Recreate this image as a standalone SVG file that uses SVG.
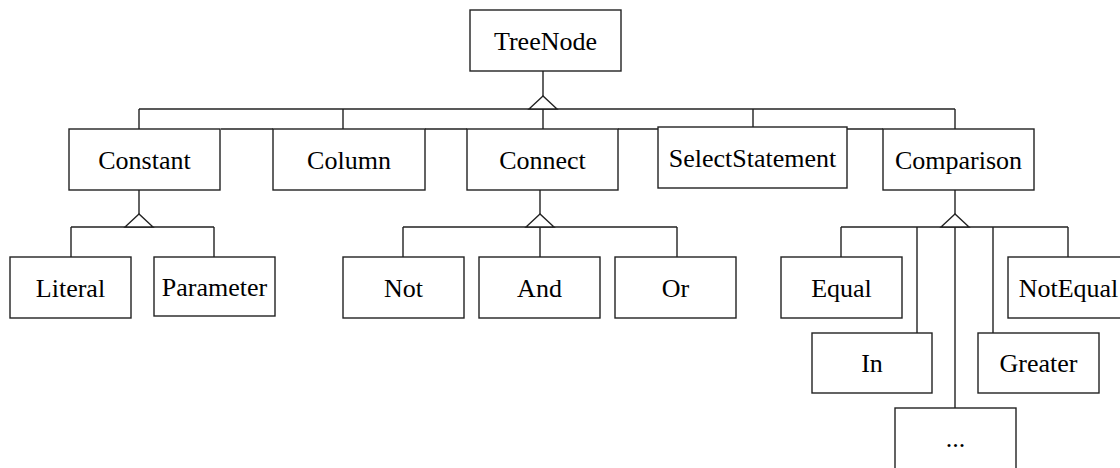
<svg xmlns="http://www.w3.org/2000/svg" xmlns:xlink="http://www.w3.org/1999/xlink" width="1120" height="468" viewBox="0 0 1120 468">
  <style>
    .box { fill: #ffffff; stroke: #222222; stroke-width: 1.4; }
    .lbl { font-family: 'Liberation Serif', 'Times New Roman', serif; font-size: 26px; fill: #000000; text-anchor: middle; }
    .wire { fill: none; stroke: #222222; stroke-width: 1.4; }
    .gen { fill: #ffffff; stroke: #222222; stroke-width: 1.4; stroke-linejoin: miter; }
  </style>
  <defs>
    <!-- hollow generalization triangle, apex at origin -->
    <path id="genTri" class="gen" d="M0,0 L-14,13 L14,13 Z"/>
  </defs>

  <rect width="1120" height="468" fill="#ffffff"/>

  <g id="connectors">
    <!-- TreeNode to first level -->
    <path class="wire" d="M543,71 V96"/>
    <path class="wire" d="M139,109 H955"/>
    <path class="wire" d="M139,109 V129 M343,109 V129 M543,109 V129 M753,109 V127 M955,109 V129"/>
    <path class="wire" d="M221,129 H273 M425,129 H467 M618,129 H658 M847,129 H883"/>
    <use xlink:href="#genTri" x="543" y="96"/>

    <!-- Constant subtypes -->
    <path class="wire" d="M139,190 V214"/>
    <path class="wire" d="M71,227 H214 M71,227 V257 M214,227 V257"/>
    <use xlink:href="#genTri" x="139" y="214"/>

    <!-- Connect subtypes -->
    <path class="wire" d="M540,190 V214"/>
    <path class="wire" d="M403,227 H677 M403,227 V257 M540,227 V257 M677,227 V257"/>
    <use xlink:href="#genTri" x="540" y="214"/>

    <!-- Comparison subtypes -->
    <path class="wire" d="M955,190 V214"/>
    <path class="wire" d="M841,227 H1068 M841,227 V257 M1068,227 V257 M917,227 V333 M955,227 V408 M993,227 V333"/>
    <use xlink:href="#genTri" x="955" y="214"/>
  </g>

  <g id="TreeNode">
    <rect class="box" x="470" y="10" width="151" height="61"/>
    <text class="lbl" x="545.5" y="49.5">TreeNode</text>
  </g>

  <g id="Constant">
    <rect class="box" x="69" y="129" width="151" height="61"/>
    <text class="lbl" x="144.5" y="168.5">Constant</text>
  </g>
  <g id="Column">
    <rect class="box" x="273" y="129" width="152" height="61"/>
    <text class="lbl" x="349" y="168.5">Column</text>
  </g>
  <g id="Connect">
    <rect class="box" x="467" y="129" width="151" height="61"/>
    <text class="lbl" x="542.5" y="168.5">Connect</text>
  </g>
  <g id="SelectStatement">
    <rect class="box" x="658" y="127" width="189" height="61"/>
    <text class="lbl" x="752.5" y="166.5">SelectStatement</text>
  </g>
  <g id="Comparison">
    <rect class="box" x="883" y="129" width="151" height="61"/>
    <text class="lbl" x="958.5" y="168.5">Comparison</text>
  </g>

  <g id="Literal">
    <rect class="box" x="10" y="257" width="121" height="61"/>
    <text class="lbl" x="70.5" y="296.5">Literal</text>
  </g>
  <g id="Parameter">
    <rect class="box" x="154" y="257" width="121" height="59"/>
    <text class="lbl" x="214.5" y="295.5">Parameter</text>
  </g>

  <g id="Not">
    <rect class="box" x="343" y="257" width="121" height="61"/>
    <text class="lbl" x="403.5" y="296.5">Not</text>
  </g>
  <g id="And">
    <rect class="box" x="479" y="257" width="121" height="61"/>
    <text class="lbl" x="539.5" y="296.5">And</text>
  </g>
  <g id="Or">
    <rect class="box" x="615" y="257" width="121" height="61"/>
    <text class="lbl" x="675.5" y="296.5">Or</text>
  </g>

  <g id="Equal">
    <rect class="box" x="781" y="257" width="121" height="61"/>
    <text class="lbl" x="841.5" y="296.5">Equal</text>
  </g>
  <g id="NotEqual">
    <rect class="box" x="1008" y="257" width="121" height="61"/>
    <text class="lbl" x="1068.5" y="296.5">NotEqual</text>
  </g>
  <g id="In">
    <rect class="box" x="812" y="333" width="120" height="60"/>
    <text class="lbl" x="872" y="372">In</text>
  </g>
  <g id="Greater">
    <rect class="box" x="978" y="333" width="121" height="60"/>
    <text class="lbl" x="1038.5" y="372">Greater</text>
  </g>
  <g id="More">
    <rect class="box" x="895" y="408" width="121" height="61"/>
    <text class="lbl" x="955.5" y="447">...</text>
  </g>
</svg>
